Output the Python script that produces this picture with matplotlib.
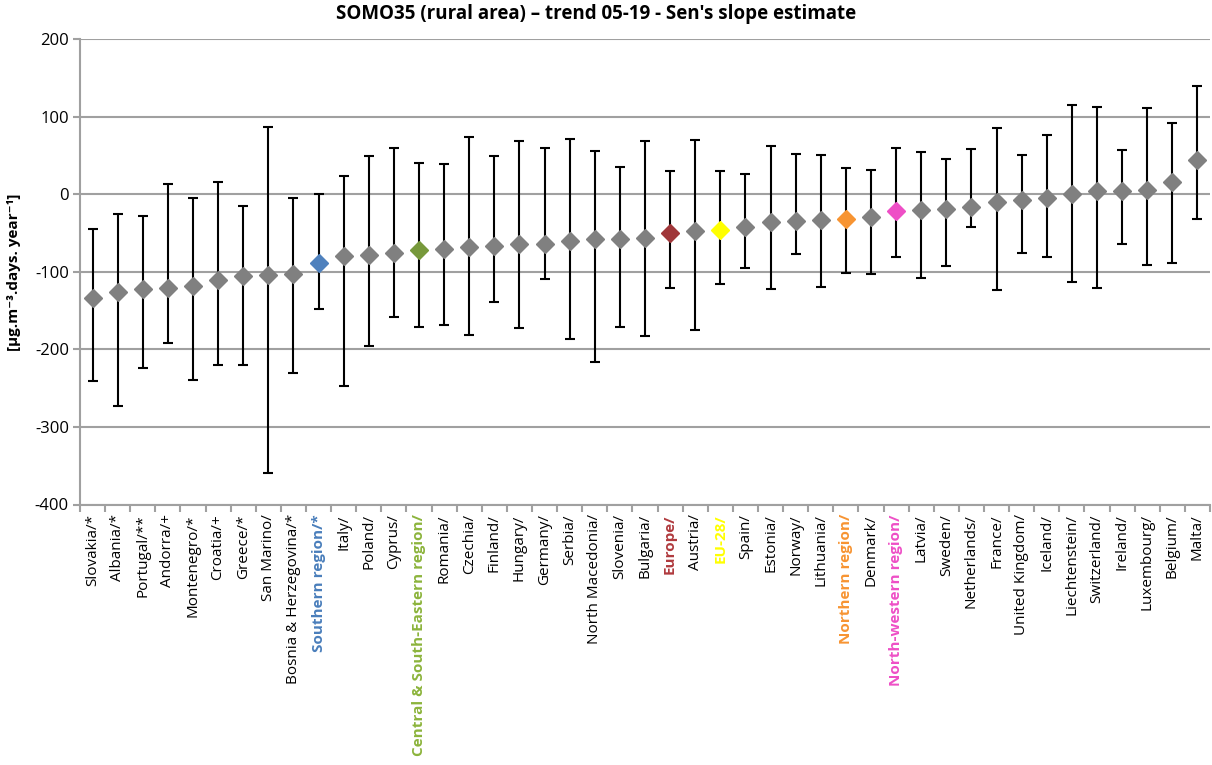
import matplotlib
matplotlib.use("Agg")
import matplotlib.pyplot as plt
import numpy as np

plt.rcParams['font.family'] = ['Open Sans', 'DejaVu Sans']
plt.rcParams['axes.unicode_minus'] = False

# Sen's slope per country/region, with lower and upper bounds of the confidence interval
countries = ['Slovakia/*', 'Albania/*', 'Portugal/**', 'Andorra/+', 'Montenegro/*', 'Croatia/+',
             'Greece/*', 'San Marino/', 'Bosnia & Herzegovina/*', 'Southern region/*', 'Italy/',
             'Poland/', 'Cyprus/', 'Central & South-Eastern region/', 'Romania/', 'Czechia/',
             'Finland/', 'Hungary/', 'Germany/', 'Serbia/', 'North Macedonia/', 'Slovenia/',
             'Bulgaria/', 'Europe/', 'Austria/', 'EU-28/', 'Spain/', 'Estonia/', 'Norway/',
             'Lithuania/', 'Northern region/', 'Denmark/', 'North-western region/', 'Latvia/',
             'Sweden/', 'Netherlands/', 'France/', 'United Kingdom/', 'Iceland/', 'Liechtenstein/',
             'Switzerland/', 'Ireland/', 'Luxembourg/', 'Belgium/', 'Malta/']
slope = [-134, -126.5, -122, -121.3, -118.3, -111, -105.4, -103.7, -103.2, -89, -79.6,
         -78.3, -75.7, -71.4, -70.1, -67.5, -66.7, -64.5, -64.1, -60.6, -58.1, -57.2,
         -56.3, -49.5, -47.3, -45.6, -42.6, -36.1, -34.8, -32.7, -32.3, -28.8, -21.5, -19.8,
         -19.4, -16.8, -10.3, -6.9, -4.7, 0, 4.3, 4.7, 5.6, 16.3, 44.3]
lower = [-241, -273.5, -224.5, -191.8, -240, -219.8, -220.6, -359.6, -230, -147.5, -247.3,
         -196.1, -157.8, -170.8, -168.2, -181.1, -138.5, -172.5, -109.2, -187.1, -216.3, -171.6,
         -182.8, -120.4, -174.6, -115.3, -95.1, -121.7, -76.6, -119.1, -101.9, -102.8, -81.3,
         -108, -92.5, -41.7, -123, -75.7, -80.4, -113.1, -121.3, -63.7, -91.6, -88.6, -31.8]
upper = [-44.3, -25.8, -27.5, 12.5, -4.7, 16.3, -15.5, 86.5, -4.7, 0, 23.7,
         48.6, 59.4, 40, 38.3, 73.5, 49.5, 68.4, 59.4, 71, 55.9, 34.4,
         68.4, 30.1, 69.7, 30.5, 25.8, 61.5, 51.6, 50.8, 33.1, 31, 59.4,
         53.8, 45.6, 58.1, 85.6, 49.9, 75.7, 115.3, 111.8, 57.2, 111.4, 91.6, 139.4]

# aggregated regions get their own colour (marker, label)
highlight = {
    'Southern region/*': ('#4f81bd', '#4a7ebb'),
    'Central & South-Eastern region/': ('#77993b', '#8cb43c'),
    'Europe/': ('#a0373a', '#b03a3e'),
    'EU-28/': ('#ffff00', '#ffff00'),
    'Northern region/': ('#f79432', '#f79432'),
    'North-western region/': ('#ee4fc6', '#ee4fc6'),
}

x = np.arange(len(countries))
slope = np.array(slope)
yerr = np.vstack([slope - np.array(lower), np.array(upper) - slope])

fig = plt.figure(figsize=(12.12, 7.65), dpi=100)
ax = fig.add_axes([80 / 1212, 1 - 504.5 / 765, 1130 / 1212, 465.5 / 765])

ax.errorbar(x, slope, yerr=yerr, fmt='none', ecolor='black', elinewidth=1.5,
            capsize=3.5, capthick=1.5, zorder=2)
for i, name in enumerate(countries):
    color = highlight.get(name, ('#808080', None))[0]
    ax.plot(x[i], slope[i], marker='D', ms=9, color=color, mec=color, linestyle='none', zorder=3)

ax.set_xlim(-0.5, len(countries) - 0.5)
ax.set_ylim(-400, 200)
ax.set_yticks(np.arange(-400, 201, 100))
ax.yaxis.grid(True, color='#a0a0a0', linewidth=1.5)
ax.set_axisbelow(True)
for s in ['top', 'right']:
    ax.spines[s].set_visible(False)
for s in ['left', 'bottom']:
    ax.spines[s].set_color('#a0a0a0')
    ax.spines[s].set_linewidth(1.5)

ax.tick_params(axis='y', labelsize=12, length=5, width=1.5, color='#a0a0a0', pad=3)
ax.set_xticks(x)
ax.set_xticklabels(countries, rotation=90, fontsize=11)
ax.set_xticks(np.arange(-0.5, len(countries), 1), minor=True)
ax.tick_params(axis='x', which='major', length=0, pad=7)
ax.tick_params(axis='x', which='minor', length=5, width=1.5, color='#a0a0a0')

for lbl, name in zip(ax.get_xticklabels(), countries):
    if name in highlight:
        lbl.set_color(highlight[name][1])
        lbl.set_fontweight('bold')

fig.text(14 / 1212, 1 - 272 / 765, '[µg.m⁻³.days. year⁻¹]', rotation=90,
         ha='center', va='center', fontsize=11, fontweight='bold')

fig.text(596 / 1212, 0.982, "SOMO35 (rural area) – trend 05-19 - Sen's slope estimate",
         ha='center', va='center', fontsize=13.5, fontweight='bold')

fig.savefig('out.png', dpi=100)
